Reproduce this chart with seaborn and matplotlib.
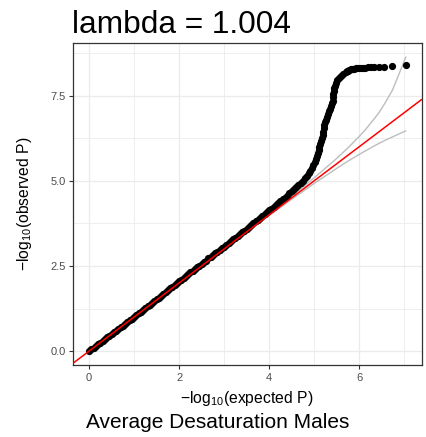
import matplotlib
matplotlib.use("Agg")
import matplotlib.pyplot as plt
from matplotlib.ticker import MultipleLocator
import pandas as pd
import seaborn as sns

# ---------------- text ----------------
title_text = "lambda = 1.004"
caption_text = "Average Desaturation Males"
xlabel_text = r"$\mathregular{-log_{10}(expected\ P)}$"
ylabel_text = r"$\mathregular{-log_{10}(observed\ P)}$"

# ---------------- data ----------------
expected = [
    0.00, 0.05, 0.10, 0.15, 0.20, 0.25, 0.30, 0.35, 0.40, 0.45,
    0.50, 0.55, 0.60, 0.65, 0.70, 0.75, 0.80, 0.85, 0.90, 0.95,
    1.00, 1.05, 1.10, 1.15, 1.20, 1.25, 1.30, 1.35, 1.40, 1.45,
    1.50, 1.55, 1.60, 1.65, 1.70, 1.75, 1.80, 1.85, 1.90, 1.95,
    2.00, 2.05, 2.10, 2.15, 2.20, 2.25, 2.30, 2.35, 2.40, 2.45,
    2.50, 2.55, 2.60, 2.65, 2.70, 2.75, 2.80, 2.85, 2.90, 2.95,
    3.00, 3.05, 3.10, 3.15, 3.20, 3.25, 3.30, 3.35, 3.40, 3.45,
    3.50, 3.55, 3.60, 3.65, 3.70, 3.75, 3.80, 3.85, 3.90, 3.95,
    4.00, 4.05, 4.10, 4.15, 4.20, 4.25, 4.30, 4.35,
    4.40, 4.45, 4.50, 4.55, 4.60, 4.65, 4.70, 4.75, 4.80,
    4.84, 4.88, 4.92, 4.95, 4.98,
    5.01, 5.04, 5.06, 5.08, 5.10,
    5.12, 5.14, 5.16, 5.17, 5.19,
    5.20, 5.22, 5.23, 5.25, 5.27,
    5.29, 5.31, 5.33, 5.35, 5.37,
    5.39, 5.41, 5.42, 5.43, 5.44,
    5.45, 5.47, 5.49, 5.52, 5.56,
    5.60, 5.65, 5.70, 5.74, 5.76,
    5.78, 5.81, 5.84, 5.86, 5.89,
    5.93, 5.96, 6.00, 6.04, 6.09,
    6.14, 6.19, 6.26, 6.34, 6.44,
    6.56, 6.74, 7.04,
]
observed = [
    0.00, 0.05, 0.10, 0.15, 0.20, 0.25, 0.30, 0.35, 0.40, 0.45,
    0.50, 0.55, 0.60, 0.65, 0.70, 0.75, 0.80, 0.85, 0.90, 0.95,
    1.00, 1.05, 1.11, 1.16, 1.21, 1.26, 1.31, 1.36, 1.42, 1.47,
    1.52, 1.57, 1.63, 1.68, 1.73, 1.78, 1.84, 1.89, 1.94, 1.99,
    2.05, 2.10, 2.15, 2.20, 2.26, 2.31, 2.36, 2.41, 2.46, 2.51,
    2.56, 2.61, 2.66, 2.72, 2.77, 2.82, 2.87, 2.92, 2.97, 3.02,
    3.07, 3.12, 3.17, 3.23, 3.28, 3.33, 3.38, 3.44, 3.49, 3.54,
    3.59, 3.65, 3.70, 3.75, 3.81, 3.86, 3.92, 3.97, 4.02, 4.08,
    4.13, 4.18, 4.24, 4.29, 4.35, 4.40, 4.46, 4.51,
    4.57, 4.63, 4.69, 4.75, 4.81, 4.87, 4.94, 5.01, 5.08,
    5.15, 5.22, 5.30, 5.38, 5.46,
    5.55, 5.64, 5.73, 5.82, 5.91,
    6.00, 6.09, 6.18, 6.27, 6.36,
    6.45, 6.54, 6.63, 6.72, 6.80,
    6.88, 6.96, 7.04, 7.12, 7.20,
    7.28, 7.36, 7.45, 7.54, 7.63,
    7.72, 7.80, 7.88, 7.95, 8.02,
    8.08, 8.14, 8.19, 8.22, 8.24,
    8.26, 8.28, 8.29, 8.30, 8.30,
    8.31, 8.31, 8.32, 8.32, 8.33,
    8.33, 8.34, 8.34, 8.35, 8.35,
    8.36, 8.38, 8.41,
]

ci_expected = [0.0, 1.0, 2.0, 3.0, 4.0, 4.5, 5.0, 5.5, 5.75, 6.0, 6.14, 6.26, 6.34, 6.44, 6.56, 6.74, 7.04]
ci_upper = [0.0, 1.0, 2.003, 3.008, 4.027, 4.548, 5.086, 5.657, 5.967, 6.303, 6.50, 6.70, 6.83, 7.00, 7.25, 7.66, 8.64]
ci_lower = [0.0, 1.0, 1.997, 2.992, 3.975, 4.456, 4.922, 5.366, 5.577, 5.776, 5.88, 5.97, 6.03, 6.10, 6.18, 6.29, 6.47]

ref_intercept = 0.0
ref_slope = 1.0

x_ticks = [0, 2, 4, 6]
y_ticks = [0.0, 2.5, 5.0, 7.5]
y_tick_labels = ["0.0", "2.5", "5.0", "7.5"]

n = min(len(expected), len(observed))
df = pd.DataFrame({"expected": expected[:n], "observed": observed[:n]})
ci = pd.DataFrame({"expected": ci_expected, "upper": ci_upper, "lower": ci_lower})

# ---------------- style ----------------
sns.set_style("white")
plt.rcParams["font.family"] = ["Liberation Sans", "DejaVu Sans"]
plt.rcParams["mathtext.fontset"] = "custom"
plt.rcParams["mathtext.rm"] = "Liberation Sans"
plt.rcParams["mathtext.it"] = "Liberation Sans:italic"
plt.rcParams["mathtext.bf"] = "Liberation Sans:bold"

fig = plt.figure(figsize=(4.27, 4.37), dpi=100)
ax = fig.add_axes([73.3 / 427, 1 - 365 / 437, (421.7 - 73.3) / 427, (365 - 42.7) / 437])

sns.lineplot(data=ci, x="expected", y="upper", color="#BDBDBD", lw=1.0,
             estimator=None, sort=False, ax=ax, zorder=2)
sns.lineplot(data=ci, x="expected", y="lower", color="#BDBDBD", lw=1.0,
             estimator=None, sort=False, ax=ax, zorder=2)
sns.scatterplot(data=df, x="expected", y="observed", color="black", s=27,
                linewidth=0, ax=ax, zorder=3)
ax.axline((0, ref_intercept), slope=ref_slope, color="#FF0000", lw=1.1, zorder=4)

ax.set_xlim(-0.352, 7.392)
ax.set_ylim(-0.41, 9.06)
ax.set_xticks(x_ticks)
ax.set_yticks(y_ticks)
ax.set_yticklabels(y_tick_labels)
ax.xaxis.set_minor_locator(MultipleLocator(1))
ax.yaxis.set_minor_locator(MultipleLocator(1.25))
ax.grid(which="major", color="#EBEBEB", lw=0.9, zorder=0)
ax.grid(which="minor", color="#EBEBEB", lw=0.6, zorder=0)
ax.set_axisbelow(True)
ax.tick_params(which="major", direction="out", length=2.6, width=0.8,
               color="#333333", labelcolor="#4D4D4D", labelsize=8, pad=3)
ax.tick_params(which="minor", length=0)
ax.tick_params(axis="both", bottom=True, left=True)
for sp in ax.spines.values():
    sp.set_color("#333333")
    sp.set_linewidth(0.9)
ax.set_xlabel("")
ax.set_ylabel("")

fig.text(247 / 427, 1 - 402.7 / 437, xlabel_text, ha="center", va="baseline",
         fontsize=11.3, color="black")
fig.text(25 / 427, 1 - 204 / 437, ylabel_text, ha="center", va="center",
         rotation=90, fontsize=11.3, color="black")
fig.text(72 / 427, 1 - 33 / 437, title_text, ha="left", va="baseline",
         fontsize=22.8, color="black")
fig.text(86 / 427, 1 - 427.7 / 437, caption_text, ha="left", va="baseline",
         fontsize=15, color="black")

fig.savefig("out.png", dpi=100)
